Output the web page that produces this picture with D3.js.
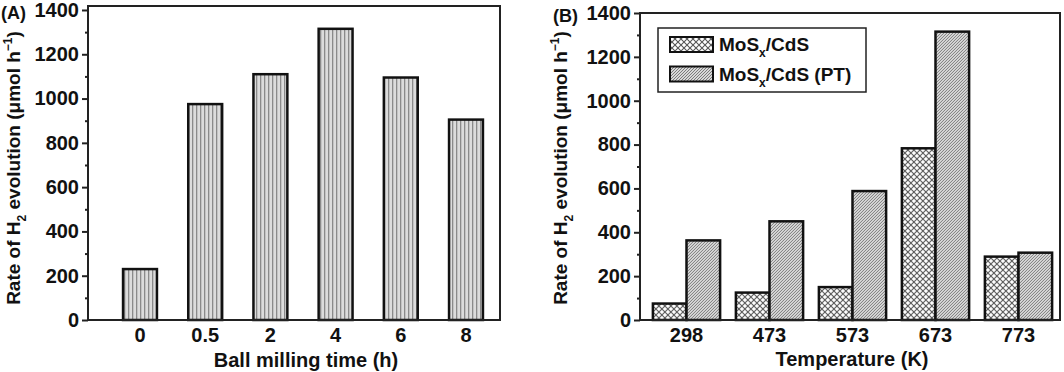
<!DOCTYPE html>
<html>
<head>
<meta charset="utf-8">
<script src="https://cdn.jsdelivr.net/npm/d3@7"></script>
<style>
  body { margin: 0; background: #fff; }
  svg text { font-family: "Liberation Sans", Arial, sans-serif; font-weight: bold; fill: #111; }
  .axis path, .axis line { stroke: #222; stroke-width: 2; }
</style>
</head>
<body>
<svg id="chart" width="1064" height="372"></svg>
<script>
// panel A data
var timeLabels = ["0", "0.5", "2", "4", "6", "8"];
var timeRates = [230, 975, 1110, 1315, 1095, 905];

// panel B data
var tempLabels = ["298", "473", "573", "673", "773"];
var seriesNames = ["MoSx/CdS", "MoSx/CdS (PT)"];
var rateCdS = [75, 125, 150, 783, 289];
var ratePT = [363, 450, 588, 1315, 307];

var yTicks = [0, 200, 400, 600, 800, 1000, 1200, 1400];
var yMinor = [100, 300, 500, 700, 900, 1100, 1300];

var svg = d3.select("#chart");
var defs = svg.append("defs");

// patterns
var pv = defs.append("pattern").attr("id", "vstripe").attr("patternUnits", "userSpaceOnUse")
  .attr("width", 4).attr("height", 4);
pv.append("rect").attr("width", 4).attr("height", 4).attr("fill", "#dcdcdc");
pv.append("rect").attr("x", 0).attr("width", 1.3).attr("height", 4).attr("fill", "#8a8a8a");

var pc = defs.append("pattern").attr("id", "cross").attr("patternUnits", "userSpaceOnUse")
  .attr("width", 6).attr("height", 6);
pc.append("rect").attr("width", 6).attr("height", 6).attr("fill", "#fff");
pc.append("path").attr("d", "M0,0L6,6M6,0L0,6").attr("stroke", "#555").attr("stroke-width", 1.1);

var pd = defs.append("pattern").attr("id", "diag").attr("patternUnits", "userSpaceOnUse")
  .attr("width", 3).attr("height", 3);
pd.append("rect").attr("width", 3).attr("height", 3).attr("fill", "#d8d8d8");
pd.append("path").attr("d", "M-1,1L1,-1M0,3L3,0M2,4L4,2").attr("stroke", "#707070").attr("stroke-width", 0.9);

function yAxisTitle(g, x, y) {
  var t = g.append("text").attr("transform", "translate(" + x + "," + y + ") rotate(-90)")
    .attr("text-anchor", "middle").style("font-size", "19px");
  t.append("tspan").text("Rate of H");
  t.append("tspan").attr("dy", 6).style("font-size", "12px").text("2");
  t.append("tspan").attr("dy", -6).text(" evolution (\u03bcmol h");
  t.append("tspan").attr("dy", -8).style("font-size", "12px").text("\u22121");
  t.append("tspan").attr("dy", 8).text(")");
}

function drawY(g, y, x0) {
  var ax = g.append("g").attr("class", "axis").attr("transform", "translate(" + x0 + ",0)")
    .call(d3.axisLeft(y).tickValues(yTicks).tickSize(6).tickPadding(3).tickFormat(d3.format("d")));
  ax.select(".domain").remove();
  ax.selectAll("text").style("font-size", "20px");
  g.append("g").attr("class", "axis").attr("transform", "translate(" + x0 + ",0)")
    .call(d3.axisLeft(y).tickValues(yMinor).tickSize(3).tickFormat(""))
    .select(".domain").remove();
}

function drawX(g, x, y0) {
  var ax = g.append("g").attr("class", "axis").attr("transform", "translate(0," + y0 + ")")
    .call(d3.axisBottom(x).tickSize(0).tickPadding(8));
  ax.select(".domain").remove();
  ax.selectAll("text").style("font-size", "20px");
}

// ---------- panel A ----------
var gA = svg.append("g");
var xA = d3.scaleBand().domain(timeLabels).range([107.4, 498.6]).paddingInner(0.48).paddingOuter(0.24);
var yA = d3.scaleLinear().domain([0, 1418]).range([320, 6]);

gA.selectAll("rect.bar").data(timeRates).enter().append("rect")
  .attr("class", "bar")
  .attr("x", function (d, i) { return xA(timeLabels[i]); })
  .attr("y", function (d) { return yA(d); })
  .attr("width", xA.bandwidth())
  .attr("height", function (d) { return yA(0) - yA(d); })
  .attr("fill", "url(#vstripe)").attr("stroke", "#111").attr("stroke-width", 2.5);

gA.append("rect").attr("x", 88).attr("y", 6).attr("width", 412).attr("height", 314)
  .attr("fill", "none").attr("stroke", "#222").attr("stroke-width", 2);
drawY(gA, yA, 88);
drawX(gA, xA, 320);
yAxisTitle(gA, 20, 168);
gA.append("text").attr("x", 306).attr("y", 367).attr("text-anchor", "middle").style("font-size", "20px")
  .text("Ball milling time (h)");
gA.append("text").attr("x", 1).attr("y", 19).style("font-size", "18px").text("(A)");

// ---------- panel B ----------
var gB = svg.append("g");
var xB = d3.scaleBand().domain(tempLabels).range([645, 1060]).paddingInner(0.19).paddingOuter(0.095);
var xSub = d3.scaleBand().domain([0, 1]).range([0, xB.bandwidth()]);
var yB = d3.scaleLinear().domain([0, 1400]).range([320, 13]);

var fills = ["url(#cross)", "url(#diag)"];
var groups = gB.selectAll("g.grp").data(tempLabels).enter().append("g")
  .attr("class", "grp")
  .attr("transform", function (d) { return "translate(" + xB(d) + ",0)"; });
groups.selectAll("rect").data(function (d, i) { return [rateCdS[i], ratePT[i]]; })
  .enter().append("rect")
  .attr("x", function (d, j) { return xSub(j); })
  .attr("y", function (d) { return yB(d); })
  .attr("width", xSub.bandwidth())
  .attr("height", function (d) { return yB(0) - yB(d); })
  .attr("fill", function (d, j) { return fills[j]; })
  .attr("stroke", "#111").attr("stroke-width", 2.5);

gB.append("rect").attr("x", 640).attr("y", 13).attr("width", 420).attr("height", 307)
  .attr("fill", "none").attr("stroke", "#222").attr("stroke-width", 2);
drawY(gB, yB, 640);
drawX(gB, xB, 320);
yAxisTitle(gB, 567, 168);
gB.append("text").attr("x", 852).attr("y", 366).attr("text-anchor", "middle").style("font-size", "20px")
  .text("Temperature (K)");
gB.append("text").attr("x", 553).attr("y", 22).style("font-size", "18px").text("(B)");

// legend
var leg = gB.append("g");
leg.append("rect").attr("x", 658).attr("y", 28).attr("width", 208).attr("height", 64)
  .attr("fill", "#fff").attr("stroke", "#222").attr("stroke-width", 1.5);
seriesNames.forEach(function (name, i) {
  var yy = 37 + i * 29.5;
  leg.append("rect").attr("x", 670).attr("y", yy).attr("width", 43).attr("height", 15)
    .attr("fill", fills[i]).attr("stroke", "#111").attr("stroke-width", 2);
  var t = leg.append("text").attr("x", 719).attr("y", yy + 14).style("font-size", "19px");
  t.append("tspan").text("MoS");
  t.append("tspan").attr("dy", 6).style("font-size", "12px").text("x");
  t.append("tspan").attr("dy", -6).text(name.slice(4));
});
</script>
</body>
</html>
